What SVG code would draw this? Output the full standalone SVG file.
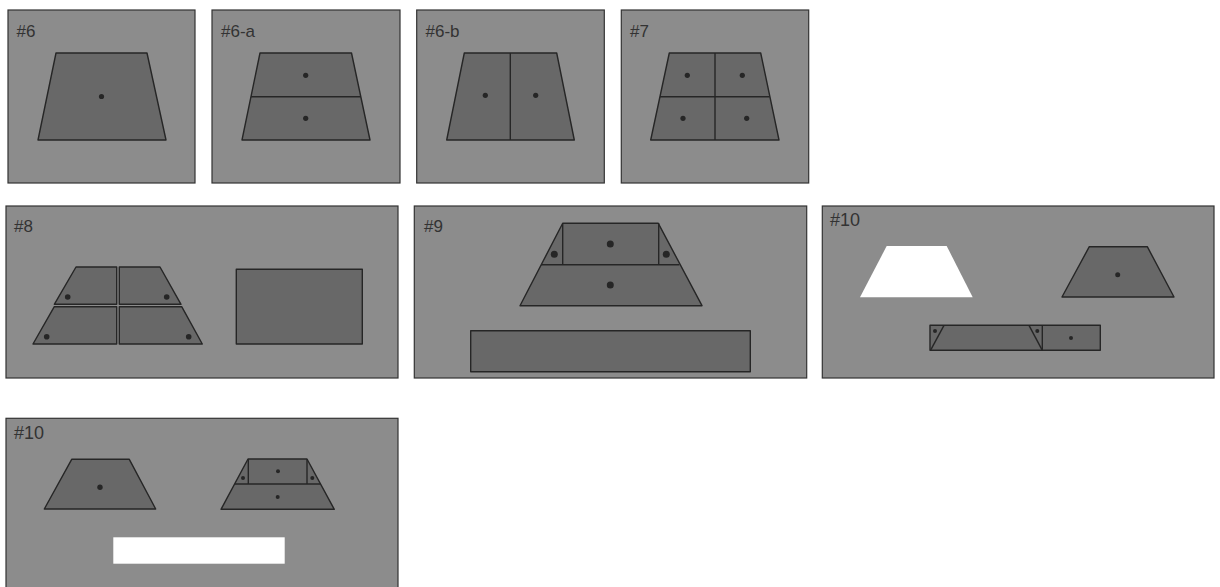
<svg xmlns="http://www.w3.org/2000/svg" width="1220" height="587" viewBox="0 0 1220 587">
<style>
.panel{fill:#8c8c8c;stroke:#333;stroke-width:1.2}
.sh{fill:#686868;stroke:#262626;stroke-width:1.4;stroke-linejoin:round}
.ln{fill:none;stroke:#262626;stroke-width:1.4}
.wh{fill:#fff;stroke:none}
.dot{fill:#262626}
.lbl{font-family:"Liberation Sans",Arial,sans-serif;font-size:17px;fill:#333}
.lbl2{font-family:"Liberation Sans",Arial,sans-serif;font-size:18px;fill:#333}
</style>
<rect width="1220" height="587" fill="#fff"/>

<g id="p6">
<rect class="panel" x="8" y="10" width="187" height="173"/>
<text class="lbl" x="16.5" y="37.3">#6</text>
<polygon class="sh" points="56,53 147,53 166,140 38,140"/>
<circle class="dot" cx="101.5" cy="96.5" r="2.6"/>
</g>

<g id="p6a">
<rect class="panel" x="212" y="10" width="188" height="173"/>
<text class="lbl" x="221" y="37.3">#6-a</text>
<polygon class="sh" points="260,53 351.5,53 370,140 242,140"/>
<line class="ln" x1="251" y1="96.7" x2="360.7" y2="96.7"/>
<circle class="dot" cx="305.7" cy="75.3" r="2.6"/>
<circle class="dot" cx="305.7" cy="118.3" r="2.6"/>
</g>

<g id="p6b">
<rect class="panel" x="416.7" y="10" width="187.6" height="173"/>
<text class="lbl" x="425.5" y="37.3">#6-b</text>
<polygon class="sh" points="464.3,53 556.7,53 574.3,140 446.7,140"/>
<line class="ln" x1="510.3" y1="53" x2="510.3" y2="140"/>
<circle class="dot" cx="485.3" cy="95.3" r="2.6"/>
<circle class="dot" cx="535.7" cy="95.3" r="2.6"/>
</g>

<g id="p7">
<rect class="panel" x="621.3" y="10" width="187.4" height="173"/>
<text class="lbl" x="630" y="37.3">#7</text>
<polygon class="sh" points="669.3,53 760.7,53 779,140 650.7,140"/>
<line class="ln" x1="660" y1="96.7" x2="769.7" y2="96.7"/>
<line class="ln" x1="715" y1="53" x2="715" y2="140"/>
<circle class="dot" cx="687.3" cy="75.3" r="2.6"/>
<circle class="dot" cx="742.3" cy="75.3" r="2.6"/>
<circle class="dot" cx="683" cy="118.3" r="2.6"/>
<circle class="dot" cx="746.7" cy="118.3" r="2.6"/>
</g>

<g id="p8">
<rect class="panel" x="6" y="206" width="392" height="172"/>
<text class="lbl" x="14" y="232">#8</text>
<polygon class="sh" points="76,267 116.7,267 116.7,304.3 54.3,304.3"/>
<polygon class="sh" points="119.3,267 160,267 181,304.3 119.3,304.3"/>
<polygon class="sh" points="54.3,306.7 116.7,306.7 116.7,344 33,344"/>
<polygon class="sh" points="119.3,306.7 181.7,306.7 202.3,344 119.3,344"/>
<circle class="dot" cx="67.7" cy="297" r="2.8"/>
<circle class="dot" cx="166.7" cy="297" r="2.8"/>
<circle class="dot" cx="46.7" cy="336.7" r="2.8"/>
<circle class="dot" cx="188.7" cy="336.7" r="2.8"/>
<rect class="sh" x="236.3" y="269.3" width="126" height="74.7"/>
</g>

<g id="p9">
<rect class="panel" x="414.3" y="206" width="392.4" height="172"/>
<text class="lbl" x="424" y="232">#9</text>
<polygon class="sh" points="562.7,223.3 658.3,223.3 702,305.7 520,305.7"/>
<line class="ln" x1="541" y1="264.7" x2="679.3" y2="264.7"/>
<line class="ln" x1="562.7" y1="223.3" x2="562.7" y2="264.7"/>
<line class="ln" x1="658.7" y1="223.3" x2="658.7" y2="264.7"/>
<circle class="dot" cx="610.3" cy="244" r="3.5"/>
<circle class="dot" cx="554.3" cy="254.3" r="3.5"/>
<circle class="dot" cx="666.3" cy="254.3" r="3.5"/>
<circle class="dot" cx="610.3" cy="285" r="3.5"/>
<rect class="sh" x="470.7" y="330.7" width="279.6" height="41"/>
</g>

<g id="p10a">
<rect class="panel" x="822.3" y="206" width="391.7" height="172"/>
<text class="lbl2" x="830" y="225.8">#10</text>
<polygon class="wh" points="886.7,246 946.7,246 972.7,297.3 860,297.3"/>
<polygon class="sh" points="1089.3,246.7 1147.3,246.7 1174,297 1062,297"/>
<circle class="dot" cx="1117.7" cy="274.7" r="2.5"/>
<rect class="sh" x="930" y="325.3" width="170.3" height="25"/>
<line class="ln" x1="944" y1="325.3" x2="930.5" y2="350.3"/>
<line class="ln" x1="1029" y1="325.3" x2="1042.3" y2="350.3"/>
<line class="ln" x1="1042.3" y1="325.3" x2="1042.3" y2="350.3"/>
<circle class="dot" cx="935" cy="331" r="2"/>
<circle class="dot" cx="1037.3" cy="331" r="2"/>
<circle class="dot" cx="1071" cy="338" r="2"/>
</g>

<g id="p10b">
<rect class="panel" x="6" y="418.3" width="392" height="175"/>
<text class="lbl2" x="14" y="439.3">#10</text>
<polygon class="sh" points="71.7,459.3 129.3,459.3 155.7,509 44.3,509"/>
<circle class="dot" cx="100" cy="487.3" r="2.7"/>
<polygon class="sh" points="248,459 307,459 334.3,509.3 221,509.3"/>
<line class="ln" x1="235" y1="484" x2="320.7" y2="484"/>
<line class="ln" x1="248.3" y1="459" x2="248.3" y2="484"/>
<line class="ln" x1="307" y1="459" x2="307" y2="484"/>
<circle class="dot" cx="278" cy="471.3" r="2"/>
<circle class="dot" cx="243" cy="478" r="2"/>
<circle class="dot" cx="312.3" cy="478" r="2"/>
<circle class="dot" cx="277.7" cy="497" r="2"/>
<rect class="wh" x="113.3" y="537.3" width="171.4" height="26.4"/>
</g>
</svg>
